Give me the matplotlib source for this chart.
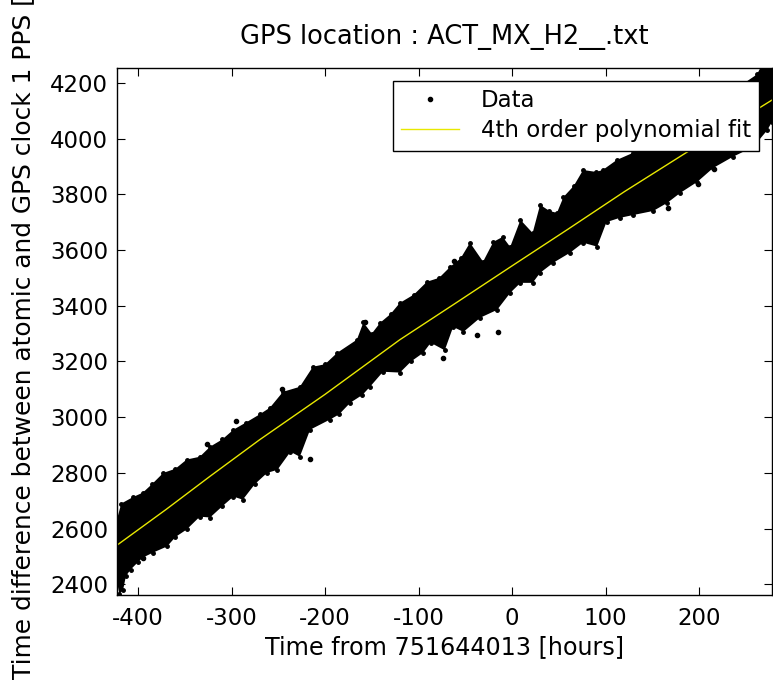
import matplotlib
matplotlib.use('Agg')
import matplotlib.pyplot as plt

plt.rcParams['font.family'] = ['DejaVu Sans']
plt.rcParams['axes.unicode_minus'] = False

# Upper and lower edges of the dense data cloud
x_up = [-422, -418, -405, -395, -385, -373, -360, -348, -334, -323, -310,
        -298, -285, -270, -259, -245, -227, -213, -200, -187, -166, -159,
        -150, -141, -130, -120, -105, -91, -78, -66, -55, -45, -31, -20,
        -10, -2, 9, 22, 30, 40, 48, 55, 66, 76, 90, 97, 112, 129, 150, 180,
        210, 240, 262, 268, 278]
y_up = [2640, 2690, 2714, 2729, 2760, 2800, 2815, 2848, 2858, 2894, 2920,
        2955, 2980, 3010, 3034, 3091, 3109, 3181, 3190, 3231, 3278, 3340,
        3300, 3339, 3370, 3410, 3440, 3486, 3500, 3540, 3570, 3626, 3558,
        3629, 3647, 3611, 3708, 3661, 3762, 3740, 3733, 3790, 3830, 3887,
        3880, 3887, 3923, 3948, 3990, 4060, 4120, 4180, 4230, 4270, 4290]

x_lo = [-422, -420, -416, -413, -408, -400, -395, -384, -369, -360, -348,
        -334, -323, -310, -298, -288, -275, -262, -251, -237, -227, -216,
        -195, -185, -173, -160, -152, -138, -120, -108, -95, -87, -72, -63,
        -52, -34, -16, -2, 9, 22, 30, 44, 62, 76, 91, 101, 115, 129, 151,
        166, 180, 198, 215, 236, 258, 273, 278]
y_lo = [2400, 2365, 2380, 2430, 2453, 2480, 2496, 2514, 2536, 2570, 2597,
        2643, 2640, 2680, 2715, 2704, 2760, 2800, 2811, 2876, 2858, 2955,
        2991, 3010, 3052, 3080, 3109, 3163, 3160, 3200, 3231, 3267, 3240,
        3324, 3306, 3357, 3385, 3446, 3482, 3482, 3518, 3554, 3590, 3626,
        3612, 3700, 3715, 3725, 3740, 3769, 3805, 3844, 3894, 3934, 3970,
        4030, 4060]

# Isolated points sitting outside the cloud
x_out = [-395, -326, -295, -246, -216, -157, -74, -62, -37, -15, 167, 199,
         216]
y_out = [2493, 2904, 2988, 3101, 2851, 3342, 3213, 3561, 3294, 3306, 3752,
         3837, 3892]

# 4th order polynomial fit, sampled along the yellow line
x_fit = [-422, -370, -323, -270, -200, -120, -60, 0, 60, 120, 188, 230, 278]
y_fit = [2542, 2669, 2788, 2919, 3082, 3278, 3410, 3543, 3675, 3809, 3953,
         4038, 4138]

fs = 16.5
fig = plt.figure(figsize=(7.73, 6.82), dpi=100)
ax = fig.add_axes([0.1514, 0.1276, 0.8473, 0.7727])

# Data cloud
ax.fill(x_up + x_lo[::-1], y_up + y_lo[::-1], color='k', lw=0)
ax.plot(x_up, y_up, 'k.', ms=5)
ax.plot(x_lo, y_lo, 'k.', ms=5)
ax.plot(x_out, y_out, 'k.', ms=6, label='Data')

# Fit
ax.plot(x_fit, y_fit, '-', color='#e8e800', lw=1,
        label='4th order polynomial fit')

ax.set_xlim(-422.5, 278)
ax.set_ylim(2362, 4253)
ax.set_xticks([-400, -300, -200, -100, 0, 100, 200])
ax.set_yticks([2400, 2600, 2800, 3000, 3200, 3400, 3600, 3800, 4000, 4200])
ax.tick_params(direction='in', length=6, top=True, right=True,
               labelsize=fs, width=0.8)
ax.tick_params(axis='x', pad=9)
ax.tick_params(axis='y', pad=6.5)
for s in ax.spines.values():
    s.set_linewidth(1)

ax.set_title('GPS location : ACT_MX_H2__.txt', fontsize=18.5, pad=17)
ax.set_xlabel('Time from 751644013 [hours]', fontsize=17.2, labelpad=3)
# y label is longer than the figure; like the original it runs off the top
fig.text(11 / 773, 3 / 682,
         'Time difference between atomic and GPS clock 1 PPS [ns]',
         rotation=90, ha='left', va='bottom', fontsize=17.9)

leg = ax.legend(loc='upper right', fontsize=fs, fancybox=False,
                framealpha=1, edgecolor='k', borderaxespad=0.55,
                handlelength=2.5, handletextpad=0.95, labelspacing=0.3,
                borderpad=0.38)
leg.get_frame().set_linewidth(1)

fig.savefig('out.png', dpi=100)
